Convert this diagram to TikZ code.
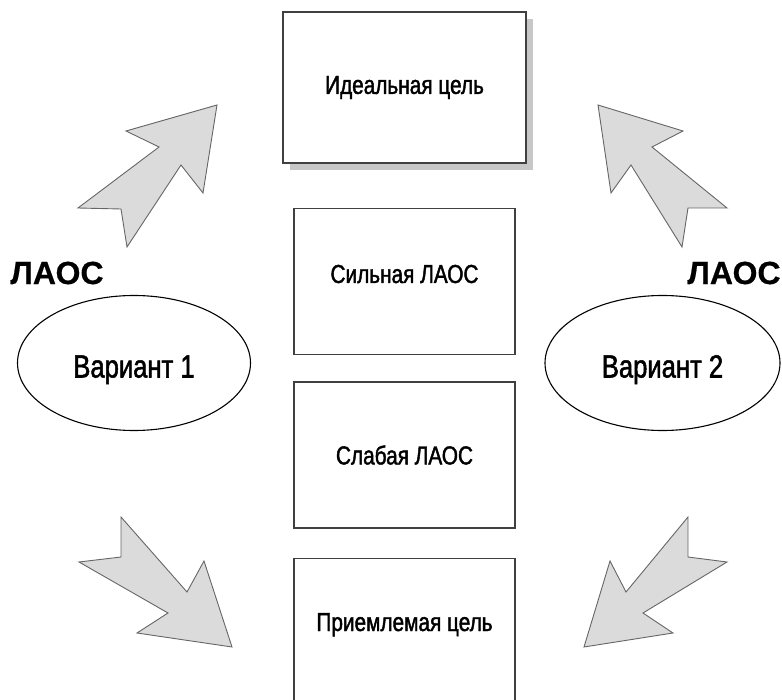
\documentclass[tikz,border=0pt]{standalone}
\usepackage{fontspec}
\setmainfont{Liberation Sans}[FakeStretch=0.8, FakeBold=1.6,
  BoldFeatures={FakeStretch=1.0, FakeBold=0.5}]
\usetikzlibrary{positioning, shapes.geometric, shadows}
\tikzset{
  goal/.style={rectangle, draw=black!75, line width=1.5pt, fill=white,
    minimum width=221pt, minimum height=146pt, inner sep=0pt,
    font=\fontsize{26}{30}\selectfont, align=center},
  variant/.style={ellipse, draw, line width=1.1pt, inner sep=0pt,
    minimum width=233pt, minimum height=135pt,
    text height=35pt, text depth=6pt,
    font=\fontsize{32}{36}\selectfont},
  tag/.style={font=\fontsize{32}{36}\selectfont\bfseries, inner sep=0pt},
  fatarrow/.style={draw=black!60, line width=0.9pt, fill=black!14, line join=miter},
}

\begin{document}
\begin{tikzpicture}[x=1pt, y=-1pt]
    \useasboundingbox (0,0) rectangle (782,700);

    \node (ideal) [goal, minimum width=243pt, minimum height=151pt,
      drop shadow={shadow xshift=7pt, shadow yshift=-7pt, fill=black!22, opacity=1}]
      at (404.5,87.5) {Идеальная цель};
    \node (strong) [goal, below=44pt of ideal, text height=19pt, text depth=16pt] {Сильная ЛАОС};
    \node (weak) [goal, below=26pt of strong] {Слабая ЛАОС};
    \node (accept) [goal, below=29pt of weak, text height=19pt, text depth=20pt] {Приемлемая цель};

    \node (varA) [variant] at (134,363) {Вариант 1};
    \node (varB) [variant, minimum width=235pt] at (662.5,363) {Вариант 2};
    \node (laosA) [tag] at (57,273) {ЛАОС};
    \node (laosB) [tag] at (734,273) {ЛАОС};

    \draw [fatarrow] (217,105) -- (126,131) -- (159,147) -- (78,208) -- (121,209)
      -- (127,247) -- (181,165) -- (203,193) -- cycle;
    \draw [fatarrow] (598,105) -- (683,131) -- (652,147) -- (727,208) -- (688,208)
      -- (682,247) -- (631,165) -- (611,193) -- cycle;
    \draw [fatarrow] (232,647) -- (204,561) -- (187,592) -- (121,517) -- (121,557)
      -- (79,562) -- (168,613) -- (137,633) -- cycle;
    \draw [fatarrow] (584,647) -- (610,561) -- (626,592) -- (688,517) -- (688,557)
      -- (727,562) -- (643,613) -- (673,633) -- cycle;
\end{tikzpicture}
\end{document}
